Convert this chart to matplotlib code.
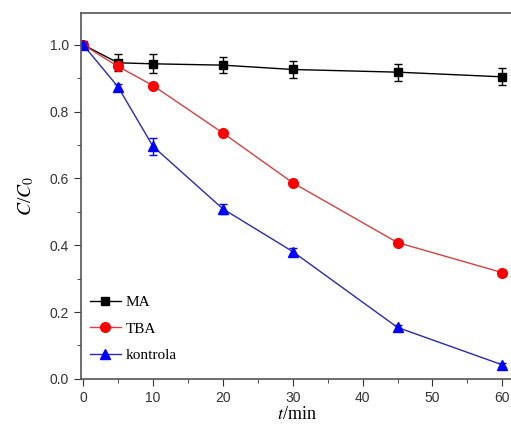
import matplotlib
matplotlib.use("Agg")
from matplotlib import pyplot as plt
from matplotlib.ticker import MultipleLocator

plt.rcParams["mathtext.fontset"] = "stix"

t = [0, 5, 10, 20, 30, 45, 60]

ma_y = [1.0, 0.946, 0.943, 0.939, 0.926, 0.918, 0.904]
ma_err = [0.008, 0.025, 0.028, 0.025, 0.025, 0.025, 0.025]

tba_y = [1.0, 0.935, 0.878, 0.736, 0.587, 0.408, 0.318]
tba_err = [0.005, 0.008, 0.008, 0.008, 0.008, 0.008, 0.008]

kon_y = [1.0, 0.874, 0.696, 0.509, 0.381, 0.154, 0.042]
kon_err = [0.006, 0.008, 0.025, 0.015, 0.01, 0.008, 0.006]

fig = plt.figure(figsize=(5.11, 4.34), dpi=100)
ax = fig.add_axes([0.1585, 0.127, 0.845, 0.843])

series = [
    (ma_y, ma_err, "black", "black", "s", 6, "MA"),
    (tba_y, tba_err, "#d94040", "#ff0000", "o", 7, "TBA"),
    (kon_y, kon_err, "#2a2ab0", "#0000ff", "^", 7, "kontrola"),
]
for y, err, lc, mc, m, ms, name in series:
    ax.errorbar(t, y, yerr=err, fmt="none", ecolor=mc, capsize=3, elinewidth=1)
    ax.plot(t, y, color=lc, marker=m, markersize=ms, markerfacecolor=mc,
            markeredgecolor=mc, linewidth=1, label=name)

ax.set_xlim(-0.3, 61.5)
ax.set_ylim(0, 1.095)
ax.xaxis.set_major_locator(MultipleLocator(10))
ax.xaxis.set_minor_locator(MultipleLocator(5))
ax.yaxis.set_major_locator(MultipleLocator(0.2))
ax.yaxis.set_minor_locator(MultipleLocator(0.1))
ax.yaxis.set_major_formatter(plt.FormatStrFormatter("%.1f"))
ax.tick_params(which="both", direction="out", top=False, right=False,
               labelsize=10, colors="#333333")
ax.tick_params(which="major", length=5)
ax.tick_params(which="minor", length=3)
for lab in ax.get_xticklabels() + ax.get_yticklabels():
    lab.set_fontfamily("Liberation Sans")
for s in ax.spines.values():
    s.set_color("#555555")
    s.set_linewidth(1.2)
ax.spines["right"].set_visible(False)

ax.set_xlabel("$t$/min", fontfamily="Liberation Serif", fontsize=13, labelpad=1)
ax.set_ylabel("$C$/$C_0$", fontfamily="Liberation Serif", fontsize=14, labelpad=10)

ax.legend(loc="lower left", frameon=False, prop={"family": "Liberation Serif", "size": 11},
          handlelength=2.0, handletextpad=0.3, labelspacing=0.85,
          borderaxespad=0.2, bbox_to_anchor=(0.0, 0.02))

fig.savefig("out.png", dpi=100)
